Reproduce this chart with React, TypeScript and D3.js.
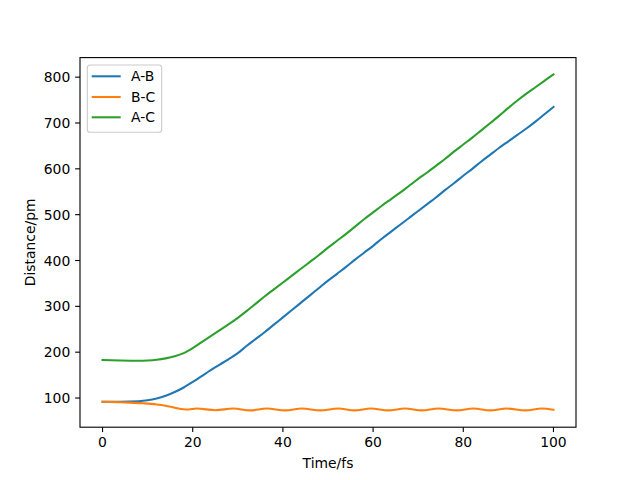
import React from "react";
import * as d3 from "d3";

const abTime = [0, 4, 8, 10, 12, 14, 16, 18, 20, 22, 24, 26, 28, 30, 32, 34, 36, 38, 40, 42, 44, 46, 48, 50, 52, 54, 56, 58, 60, 62, 64, 66, 68, 70, 72, 74, 76, 78, 80, 82, 84, 86, 88, 90, 92, 94, 96, 98, 100];
const abValues = [92, 92, 93, 95, 99, 105, 113, 123, 135, 148, 161, 173, 185, 198, 214, 229, 244, 260, 276, 292, 308, 324, 340, 356, 371, 386, 402, 417, 432, 448, 463, 478, 493, 508, 523, 538, 554, 569, 585, 600, 616, 631, 646, 660, 674, 688, 703, 719, 735];

const acTime = [0, 4, 8, 10, 12, 14, 16, 18, 20, 22, 24, 26, 28, 30, 32, 34, 36, 38, 40, 42, 44, 46, 48, 50, 52, 54, 56, 58, 60, 62, 64, 66, 68, 70, 72, 74, 76, 78, 80, 82, 84, 86, 88, 90, 92, 94, 96, 98, 100];
const acValues = [183, 182, 181.5, 182, 183.5, 186.5, 191, 198, 209, 222, 235, 248, 261, 275, 290, 306, 322, 337, 352, 367, 382, 397, 412, 428, 443, 458, 474, 490, 505, 520, 534, 548, 563, 578, 592, 607, 622, 638, 653, 668, 684, 700, 716, 733, 749, 764, 778, 792, 806];

const bcTime = [0, 3, 6, 9, 12, 14, 16, 18, 19, 20.9, 25, 29, 32.7, 36.4, 40.5, 44.2, 48.3, 52.3, 55.9, 59.5, 63.4, 67.1, 70.8, 74.5, 78.6, 82.2, 86, 89.6, 93.8, 97.4, 100];
const bcValues = [92, 91, 90, 88.5, 86, 83, 79, 75.5, 75, 77, 73.5, 77, 73, 77, 73, 77, 73, 77, 73, 77, 73, 77, 73, 77, 73, 77, 73, 77, 73, 77, 74.5];

const labels = ["A-B", "B-C", "A-C"];
const colors = ["#1f77b4", "#ff7f0e", "#2ca02c"];
const xTicks = [0, 20, 40, 60, 80, 100];
const yTicks = [100, 200, 300, 400, 500, 600, 700, 800];

const W = 640, H = 480;
const L = 80, R = 576, T = 57.6, B = 427.2;
const FONT = "DejaVu Sans";
const FS = 13.9;

export default function App() {
  const series = [
    { t: abTime, v: abValues },
    { t: bcTime, v: bcValues },
    { t: acTime, v: acValues },
  ];
  const allV = [...abValues, ...bcValues, ...acValues];
  const vMin = d3.min(allV)!, vMax = d3.max(allV)!;
  const pad = (vMax - vMin) * 0.05;
  const x = d3.scaleLinear().domain([-5, 105]).range([L, R]);
  const y = d3.scaleLinear().domain([vMin - pad, vMax + pad]).range([B, T]);

  const line = d3
    .line<[number, number]>()
    .x((d) => x(d[0]))
    .y((d) => y(d[1]))
    .curve(d3.curveMonotoneX);

  const tickLen = 4.86;
  const legX = 87.3, legY = 65, legW = 74.4, legH = 67.3;
  const rowY = [76.3, 97, 117.3];

  return (
    <svg
      width={W}
      height={H}
      style={{ position: "absolute", left: 0, top: 0, background: "#fff" }}
      fontFamily={FONT}
    >
      <rect x={0} y={0} width={W} height={H} fill="#fff" />
      <defs>
        <clipPath id="plotclip">
          <rect x={L} y={T} width={R - L} height={B - T} />
        </clipPath>
      </defs>
      <g clipPath="url(#plotclip)">
        {series.map((s, i) => (
          <path
            key={i}
            d={line(s.t.map((t, j) => [t, s.v[j]] as [number, number])) || ""}
            fill="none"
            stroke={colors[i]}
            strokeWidth={2.08}
            strokeLinecap="square"
            strokeLinejoin="round"
          />
        ))}
      </g>
      <rect x={L} y={T} width={R - L} height={B - T} fill="none" stroke="#000" strokeWidth={1.11} />
      {xTicks.map((t) => (
        <g key={t}>
          <line x1={x(t)} x2={x(t)} y1={B} y2={B + tickLen} stroke="#000" strokeWidth={1.11} />
          <text x={x(t)} y={B + 19.8} fontSize={FS} textAnchor="middle" fill="#000">
            {t}
          </text>
        </g>
      ))}
      {yTicks.map((t) => (
        <g key={t}>
          <line x1={L - tickLen} x2={L} y1={y(t)} y2={y(t)} stroke="#000" strokeWidth={1.11} />
          <text x={L - 2 * tickLen} y={y(t) + 5.1} fontSize={FS} textAnchor="end" fill="#000">
            {t}
          </text>
        </g>
      ))}
      <text x={(L + R) / 2} y={468} fontSize={FS} textAnchor="middle" fill="#000">
        Time/fs
      </text>
      <text
        transform={`translate(35,${(T + B) / 2}) rotate(-90)`}
        fontSize={FS}
        textAnchor="middle"
        fill="#000"
      >
        Distance/pm
      </text>
      <rect
        x={legX}
        y={legY}
        width={legW}
        height={legH}
        rx={2.8}
        ry={2.8}
        fill="#fff"
        fillOpacity={0.8}
        stroke="#cccccc"
        strokeWidth={1.11}
      />
      {labels.map((lab, i) => (
        <g key={lab}>
          <line x1={91.7} x2={120.7} y1={rowY[i]} y2={rowY[i]} stroke={colors[i]} strokeWidth={2.08} />
          <text x={131} y={rowY[i] + 5} fontSize={FS} fill="#000">
            {lab}
          </text>
        </g>
      ))}
    </svg>
  );
}
